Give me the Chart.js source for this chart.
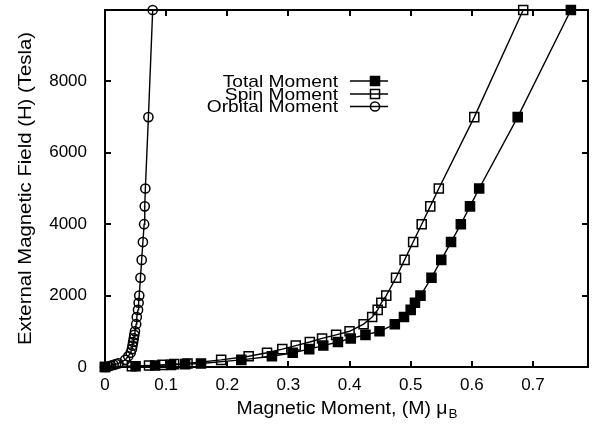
<!DOCTYPE html>
<html>
<head>
<meta charset="utf-8">
<script src="https://cdn.jsdelivr.net/npm/chart.js@4.4.1/dist/chart.umd.min.js"></script>
<style>
  body { margin: 0; background: #fff; }
  #wrap { width: 598px; height: 426px; }
</style>
</head>
<body>
<div id="wrap"><canvas id="momentChart" width="598" height="426"></canvas></div>
<script>
// External field H (Tesla), shared by the three series
const fieldTesla = [0, 20, 40, 60, 80, 100, 200, 300, 400, 500, 600, 700, 800, 900, 1000,
  1200, 1400, 1600, 1800, 2000, 2500, 3000, 3500, 4000, 4500, 5000, 7000, 10000];

// magnetic moment (mu_B)
const totalMoment = [0, 0.05, 0.082, 0.108, 0.131, 0.157, 0.223, 0.273, 0.307, 0.334, 0.357, 0.381, 0.402, 0.426, 0.449,
  0.474, 0.489, 0.5, 0.507, 0.516, 0.534, 0.55, 0.566, 0.582, 0.597, 0.612, 0.675, 0.762];
const spinMoment = [0, 0.044, 0.072, 0.094, 0.113, 0.135, 0.19, 0.235, 0.265, 0.29, 0.312, 0.335, 0.355, 0.378, 0.4,
  0.423, 0.437, 0.446, 0.452, 0.46, 0.476, 0.49, 0.504, 0.518, 0.532, 0.546, 0.604, 0.684];
const orbitalMoment = [0, 0.006, 0.01, 0.014, 0.018, 0.022, 0.033, 0.038, 0.042, 0.044, 0.045, 0.046, 0.047, 0.048, 0.049,
  0.051, 0.052, 0.054, 0.055, 0.056, 0.058, 0.06, 0.062, 0.064, 0.065, 0.066, 0.071, 0.078];

const seriesNames = ["Total Moment", "Spin Moment", "Orbital Moment"];
const xTicks = [0, 0.1, 0.2, 0.3, 0.4, 0.5, 0.6, 0.7];
const yTicks = [0, 2000, 4000, 6000, 8000];

const FONT = '"Liberation Sans", Arial, Helvetica, sans-serif';
Chart.defaults.font.family = FONT;
Chart.defaults.color = "#000";

const toPoints = (moments) => moments.map((m, i) => ({ x: m, y: fieldTesla[i] }));

// the reference text is a bit wider than Liberation Sans, so stretch it along the line
function wideText(ctx, text, x, y, stretch) {
  ctx.save();
  ctx.translate(x, y);
  ctx.scale(stretch, 1);
  ctx.fillText(text, 0, 0);
  ctx.restore();
}

// frame + inward ticks on all four sides (gnuplot look)
const framePlugin = {
  id: "frame",
  beforeDatasetsDraw(chart) {
    const { ctx, chartArea: a, scales } = chart;
    ctx.save();
    ctx.strokeStyle = "#000";
    ctx.lineWidth = 2;
    ctx.strokeRect(a.left, a.top, a.right - a.left, a.bottom - a.top);
    ctx.beginPath();
    xTicks.forEach((v) => {
      const px = Math.round(scales.x.getPixelForValue(v));
      ctx.moveTo(px, a.bottom); ctx.lineTo(px, a.bottom - 6);
      ctx.moveTo(px, a.top); ctx.lineTo(px, a.top + 6);
    });
    yTicks.forEach((v) => {
      const py = Math.round(scales.y.getPixelForValue(v));
      ctx.moveTo(a.left, py); ctx.lineTo(a.left + 6, py);
      ctx.moveTo(a.right, py); ctx.lineTo(a.right - 6, py);
    });
    ctx.stroke();
    ctx.restore();
  },
  afterDraw(chart) {
    const { ctx, chartArea: a } = chart;
    const S = 1.13;
    ctx.save();
    ctx.fillStyle = "#000";

    // y title
    ctx.font = "18px " + FONT;
    ctx.textAlign = "center";
    ctx.textBaseline = "middle";
    ctx.save();
    ctx.translate(26, (a.top + a.bottom) / 2);
    ctx.rotate(-Math.PI / 2);
    wideText(ctx, "External Magnetic Field (H) (Tesla)", 0, 0, S);
    ctx.restore();

    // x title with subscript B
    const SX = 1.08;
    const main = "Magnetic Moment, (M) \u03bc";
    ctx.font = "18px " + FONT;
    const w1 = ctx.measureText(main).width * SX;
    ctx.font = "12.5px " + FONT;
    const w2 = ctx.measureText("B").width * SX;
    const x0 = (a.left + a.right) / 2 - (w1 + w2) / 2;
    ctx.textAlign = "left";
    ctx.textBaseline = "alphabetic";
    ctx.font = "18px " + FONT;
    wideText(ctx, main, x0, 414, SX);
    ctx.font = "12.5px " + FONT;
    wideText(ctx, "B", x0 + w1 + 1, 418, SX);

    // legend
    const rows = [81, 94, 106.5];
    ctx.font = "17px " + FONT;
    ctx.textAlign = "right";
    ctx.textBaseline = "middle";
    chart.data.datasets.forEach((ds, i) => {
      const y = rows[i];
      ctx.fillStyle = "#000";
      wideText(ctx, seriesNames[i], 338, y + 1, S);
      ctx.lineWidth = 1.4;
      ctx.strokeStyle = "#000";
      ctx.beginPath();
      ctx.moveTo(350, y); ctx.lineTo(388, y);
      ctx.stroke();
      ctx.lineWidth = 1.5;
      ctx.fillStyle = ds.pointBackgroundColor;
      Chart.helpers.drawPoint(ctx, {
        pointStyle: ds.pointStyle, radius: ds.pointRadius, rotation: 0, borderWidth: 1.5
      }, 375, y);
    });
    ctx.restore();
  }
};

new Chart(document.getElementById("momentChart"), {
  type: "scatter",
  data: {
    datasets: [
      {
        label: seriesNames[0],
        data: toPoints(totalMoment),
        showLine: true, borderColor: "#000", borderWidth: 1.4,
        pointStyle: "rect", pointRadius: 6.4,
        pointBackgroundColor: "#000", pointBorderColor: "#000", pointBorderWidth: 1.5,
        clip: false
      },
      {
        label: seriesNames[1],
        data: toPoints(spinMoment),
        showLine: true, borderColor: "#000", borderWidth: 1.4,
        pointStyle: "rect", pointRadius: 6.4,
        pointBackgroundColor: "rgba(0,0,0,0)", pointBorderColor: "#000", pointBorderWidth: 1.5,
        clip: false
      },
      {
        label: seriesNames[2],
        data: toPoints(orbitalMoment),
        showLine: true, borderColor: "#000", borderWidth: 1.4,
        pointStyle: "circle", pointRadius: 4.6,
        pointBackgroundColor: "rgba(0,0,0,0)", pointBorderColor: "#000", pointBorderWidth: 1.5,
        clip: false
      }
    ]
  },
  options: {
    responsive: false,
    animation: false,
    layout: { padding: { left: 0, right: 10, top: 10, bottom: 0 } },
    plugins: { legend: { display: false }, tooltip: { enabled: false } },
    scales: {
      x: {
        type: "linear", min: 0, max: 0.79,
        grid: { display: false, drawTicks: false },
        border: { display: false },
        afterBuildTicks: (s) => { s.ticks = xTicks.map((v) => ({ value: v })); },
        afterFit: (s) => { s.height = 59; s.paddingLeft = 0; s.paddingRight = 0; },
        ticks: { font: { size: 17 }, padding: 8, maxRotation: 0, callback: (v) => String(v) }
      },
      y: {
        type: "linear", min: 0, max: 10000,
        grid: { display: false, drawTicks: false },
        border: { display: false },
        afterBuildTicks: (s) => { s.ticks = yTicks.map((v) => ({ value: v })); },
        afterFit: (s) => { s.width = 105; s.paddingTop = 0; s.paddingBottom = 0; },
        ticks: { font: { size: 17 }, padding: 18, callback: (v) => String(v) }
      }
    }
  },
  plugins: [framePlugin]
});
</script>
</body>
</html>
